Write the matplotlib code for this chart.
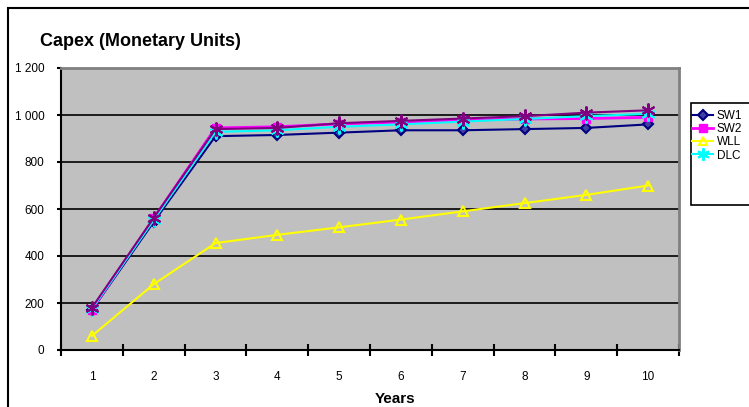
import matplotlib
matplotlib.use("Agg")
import matplotlib.pyplot as plt
from matplotlib.patches import Rectangle
from matplotlib.ticker import FuncFormatter

plt.rcParams['font.family'] = ['Liberation Sans', 'DejaVu Sans']

years = [1, 2, 3, 4, 5, 6, 7, 8, 9, 10]
sw1 = [170, 545, 910, 915, 925, 935, 935, 940, 945, 960]
sw2 = [172, 560, 945, 950, 962, 970, 978, 983, 985, 990]
wll = [60, 280, 455, 490, 522, 555, 590, 625, 660, 700]
dlc = [175, 553, 928, 935, 950, 960, 972, 983, 995, 1005]
extra = [180, 562, 940, 945, 965, 975, 985, 995, 1010, 1020]  # purple series, not in legend

fig = plt.figure(figsize=(7.49, 4.07), dpi=100)

# outer chart border
fig.patches.append(Rectangle((8 / 749, -0.05), 1.2, 1 - 8 / 407 + 0.05,
                             transform=fig.transFigure, fill=False,
                             edgecolor='black', linewidth=1.5))

ax = fig.add_axes([61 / 749, 1 - 350 / 407, 618 / 749, 282 / 407])
ax.set_facecolor('#C0C0C0')

for y in [200, 400, 600, 800, 1000]:
    ax.axhline(y, color='black', linewidth=1.2, zorder=1)

mk = dict(markersize=10, markeredgewidth=1.5)
ax.plot(years, sw1, color='#000080', linewidth=1.5, marker='D',
        markerfacecolor='#4040A0', markersize=5.5, markeredgewidth=1.5,
        label='SW1', zorder=3)
ax.plot(years, sw2, color='#FF00FF', linewidth=2, marker='s',
        markersize=6, label='SW2', zorder=3)
ax.plot(years, wll, color='#FFFF00', linewidth=1.5, marker='^',
        markerfacecolor='none', markersize=7, markeredgewidth=1.5,
        label='WLL', zorder=3)
ax.plot(years, dlc, color='#00FFFF', linewidth=1.5, marker=(6, 2, 0),
        label='DLC', zorder=3, **mk)
ax.plot(years, extra, color='#800080', linewidth=1.5, marker=(6, 2, 0),
        label='_nolegend_', zorder=4, **mk)

ax.set_xlim(0.5, 10.5)
ax.set_ylim(0, 1200)
ax.set_yticks([0, 200, 400, 600, 800, 1000, 1200])
ax.yaxis.set_major_formatter(FuncFormatter(lambda v, p: f"{int(v):,}".replace(',', ' ')))
ax.set_xticks(years)
ax.set_xticks([x + 0.5 for x in range(0, 11)], minor=True)
ax.tick_params(axis='x', which='major', length=0, pad=15, labelsize=8.5)
ax.tick_params(axis='x', which='minor', direction='inout', length=9, width=1.5)
ax.tick_params(axis='y', direction='out', length=3, width=1.5, labelsize=8.5, pad=9)

for side in ['top', 'right']:
    ax.spines[side].set_color('#808080')
    ax.spines[side].set_linewidth(2)
ax.spines['left'].set_linewidth(1.5)
ax.spines['bottom'].set_linewidth(1.5)

fig.text(395 / 749, 1 - 399 / 407, 'Years', fontsize=11, fontweight='bold',
         ha='center', va='center')
fig.text(40 / 749, 1 - 41 / 407, 'Capex (Monetary Units)', fontsize=13,
         fontweight='bold', va='center', ha='left')

# legend box
fig.patches.append(Rectangle((691 / 749, 1 - 205 / 407), 0.2, 102 / 407,
                             transform=fig.transFigure, fill=True,
                             facecolor='white', edgecolor='black', linewidth=1.2))
fig.legend(loc='upper left', bbox_to_anchor=(692 / 749, 1 - 110 / 407),
           frameon=False, fontsize=8.5, handlelength=1.8, handletextpad=0.3,
           labelspacing=0.1, borderpad=0, borderaxespad=0, markerscale=0.9)

fig.savefig('out.png', dpi=100)
